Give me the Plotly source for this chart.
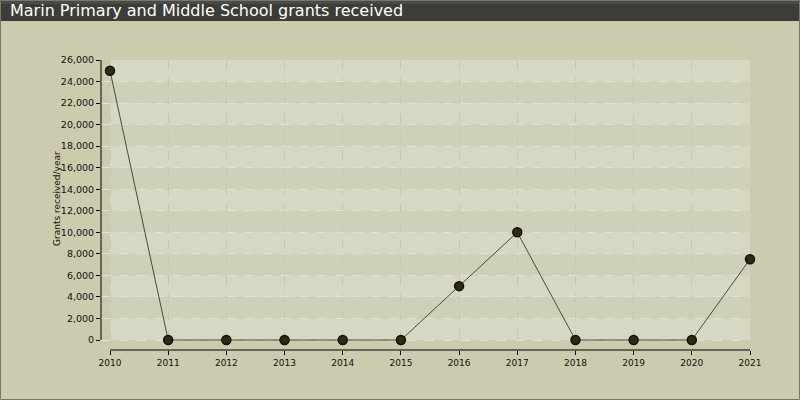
import plotly.graph_objects as go

years = [2010, 2011, 2012, 2013, 2014, 2015, 2016, 2017, 2018, 2019, 2020, 2021]
grants = [25000, 0, 0, 0, 0, 0, 5000, 10000, 0, 0, 0, 7500]
y_ticks = [0, 2000, 4000, 6000, 8000, 10000, 12000, 14000, 16000, 18000, 20000, 22000, 24000, 26000]

TITLE = "Marin Primary and Middle School grants received"
Y_TITLE = "Grants received/year"

PAPER = "#cccbad"
BAND_LIGHT = "#d7d8c3"
BAND_DARK = "#cfd0b9"
LINE = "#4b4a36"
MARKER = "#2e2a14"

W, H = 800, 400
L, R, T, B = 101, 50, 60, 50
pw, ph = W - L - R, H - T - B

# 10px gap between axis lines and the shaded plot area
x_pad = 9 * (years[-1] - years[0]) / (pw - 9)
y_pad = 10 * (y_ticks[-1] - y_ticks[0]) / (ph - 10)


def px_x(p):
    return (p - L) / pw


def px_y(p):
    return 1 - (p - T) / ph


fig = go.Figure()

fig.add_trace(go.Scatter(
    x=years, y=grants, mode="lines+markers",
    line=dict(color=LINE, width=1),
    marker=dict(size=9, color=MARKER, line=dict(color="#111", width=1.5)),
    cliponaxis=False, hoverinfo="x+y",
))

shapes = []
# alternating bands
for i in range(len(y_ticks) - 1):
    shapes.append(dict(
        type="rect", xref="x", yref="y", layer="below",
        x0=years[0], x1=years[-1], y0=y_ticks[i], y1=y_ticks[i + 1],
        fillcolor=BAND_LIGHT if i % 2 == 0 else BAND_DARK, line=dict(width=0),
    ))
# axis lines
shapes.append(dict(type="line", xref="paper", yref="y", x0=0, x1=0,
                   y0=y_ticks[0], y1=y_ticks[-1], line=dict(color="black", width=1)))
shapes.append(dict(type="line", xref="x", yref="paper", x0=years[0], x1=years[-1],
                   y0=0, y1=0, line=dict(color="black", width=1)))
# title bar
shapes.append(dict(type="rect", xref="paper", yref="paper", layer="above",
                   x0=px_x(0), x1=px_x(W), y0=px_y(21), y1=px_y(0),
                   fillcolor="#3c3c38", line=dict(width=0)))
shapes.append(dict(type="rect", xref="paper", yref="paper", layer="above",
                   x0=px_x(0), x1=px_x(W), y0=px_y(4), y1=px_y(0),
                   fillcolor="#4a4a46", line=dict(width=0)))
# outer frame
shapes.append(dict(type="rect", xref="paper", yref="paper", layer="above",
                   x0=px_x(0.5), x1=px_x(W - 0.5), y0=px_y(H - 0.5), y1=px_y(0.5),
                   line=dict(color="#77776a", width=1)))

fig.update_layout(
    width=W, height=H,
    margin=dict(l=L, r=R, t=T, b=B),
    paper_bgcolor=PAPER, plot_bgcolor="rgba(0,0,0,0)",
    font=dict(family="DejaVu Sans", color="#111", size=9),
    showlegend=False,
    shapes=shapes,
    annotations=[
        dict(text=TITLE, xref="paper", yref="paper", x=px_x(8), y=px_y(10.5),
             xanchor="left", yanchor="middle", showarrow=False,
             font=dict(size=16, color="white", family="DejaVu Sans")),
        dict(text=Y_TITLE, xref="paper", yref="paper", x=px_x(57), y=px_y(199),
             xanchor="center", yanchor="middle", showarrow=False, textangle=-90,
             font=dict(size=9, color="#111")),
    ],
    xaxis=dict(
        range=[years[0] - x_pad, years[-1]], tickvals=years,
        showline=False, zeroline=False,
        ticks="outside", ticklen=4, tickcolor="black",
        showgrid=True, gridcolor="#c6c6b4", griddash="dash", gridwidth=1,
        tickfont=dict(size=9), fixedrange=True,
    ),
    yaxis=dict(
        range=[y_ticks[0] - y_pad, y_ticks[-1]], tickvals=y_ticks, tickformat=",d",
        showline=False, zeroline=False,
        ticks="outside", ticklen=4, tickcolor="black",
        showgrid=True, gridcolor="#e2e2d6", griddash="dash", gridwidth=1,
        tickfont=dict(size=9.5), fixedrange=True,
    ),
)

fig.write_html("out.html", config={"displayModeBar": False},
               post_script="document.body.style.margin='0';")
